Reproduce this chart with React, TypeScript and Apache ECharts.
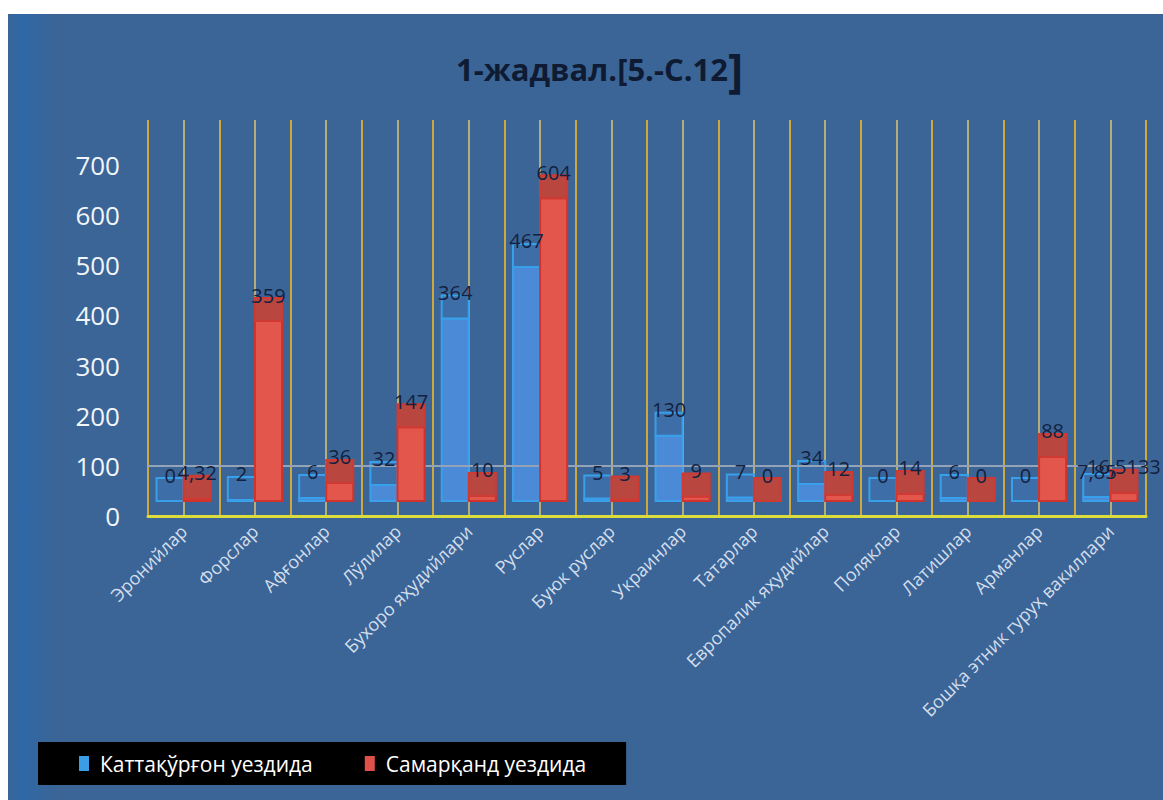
import React, { useEffect, useRef } from "react";
import * as echarts from "echarts";

const categories = [
  "Эронийлар",
  "Форслар",
  "Афғонлар",
  "Лўлилар",
  "Бухоро яҳудийлари",
  "Руслар",
  "Буюк руслар",
  "Украинлар",
  "Татарлар",
  "Европалик яҳудийлар",
  "Поляклар",
  "Латишлар",
  "Арманлар",
  "Бошқа этник гуруҳ вакиллари",
];

const kattaqurgon = [0, 2, 6, 32, 364, 467, 5, 130, 7, 34, 0, 6, 0, 7.85];
const samarkand = [4.32, 359, 36, 147, 10, 604, 3, 9, 0, 12, 14, 0, 88, 16.5133];

const seriesNames = ["Каттақўрғон уездида", "Самарқанд уездида"];
const yTicks = [0, 100, 200, 300, 400, 500, 600, 700];
const titleMain = "1-жадвал.[5.-С.12";
const titleBracket = "]";

const fmt = (v: number) => String(v).replace(".", ",");

const FONT = '"Open Sans", "Noto Sans", sans-serif';
const LIFT = 15;
const CAP_H = 23;

const geom = (side: number, api: any) => {
  const i = api.value(0);
  const v = api.value(1);
  const base = api.coord([i, 0]);
  const top = api.coord([i, v]);
  const band = api.size([1, 0])[0];
  const w = band * 0.38;
  const x = side === 0 ? base[0] - w : base[0];
  const frontTop = top[1] - LIFT;
  const frontBottom = base[1] - LIFT;
  return { v, x, w, frontTop, frontBottom };
};

const makeBarRender =
  (side: number, front: string, frontEdge: string, cap: string, capEdge: string) =>
  (_params: any, api: any) => {
    const { x, w, frontTop, frontBottom } = geom(side, api);
    return {
      type: "group",
      children: [
        {
          type: "rect",
          shape: { x, y: frontTop, width: w, height: Math.max(frontBottom - frontTop, 0) },
          style: { fill: front, stroke: frontEdge, lineWidth: 2 },
        },
        {
          type: "rect",
          shape: { x, y: frontTop - CAP_H, width: w, height: CAP_H },
          style: { fill: cap, stroke: capEdge, lineWidth: 2 },
        },
      ],
    };
  };

const makeLabelRender = (side: number) => (_params: any, api: any) => {
  const { v, x, w, frontTop } = geom(side, api);
  return {
    type: "text",
    x: x + w / 2,
    y: frontTop - CAP_H + 7,
    style: {
      text: fmt(v),
      fill: "#13213f",
      fontSize: 20,
      fontFamily: FONT,
      align: "center",
      verticalAlign: "bottom",
    },
  };
};

export default function App() {
  const ref = useRef<HTMLDivElement>(null);

  useEffect(() => {
    if (!ref.current) return;
    const chart = echarts.init(ref.current, null, { renderer: "svg" });
    const halfCats = Array.from({ length: categories.length * 2 }, (_, i) => String(i));
    const kData = kattaqurgon.map((v, i) => [i, v]);
    const sData = samarkand.map((v, i) => [i, v]);
    chart.setOption({
      animation: false,
      backgroundColor: "#3b6597",
      title: {
        text: `{a|${titleMain}}{b|${titleBracket}}`,
        left: 443,
        top: 27,
        textStyle: {
          rich: {
            a: { fontSize: 31, fontWeight: "bold", color: "#0e1b33", fontFamily: FONT },
            b: { fontSize: 46, fontWeight: "bold", color: "#0e1b33", fontFamily: FONT },
          },
        },
      },
      graphic: [
        {
          type: "rect",
          left: 0,
          top: 0,
          shape: { width: 48, height: 786 },
          style: {
            fill: new echarts.graphic.LinearGradient(0, 0, 1, 0, [
              { offset: 0, color: "#3a6596" },
              { offset: 0.25, color: "#2f68a8" },
              { offset: 1, color: "#3a6596" },
            ]),
          },
          z: -1,
        },
      ],
      legend: {
        data: seriesNames,
        left: 30,
        top: 728,
        backgroundColor: "#000",
        padding: [11, 40, 11, 41],
        itemGap: 52,
        icon: "rect",
        itemWidth: 10,
        itemHeight: 15,
        textStyle: {
          color: "#ffffff",
          fontSize: 21,
          lineHeight: 21,
          fontFamily: FONT,
          padding: [0, 0, 0, 6],
        },
      },
      grid: { left: 140, right: 17, top: 106, bottom: 284 },
      xAxis: [
        {
          type: "category",
          data: categories,
          axisLine: { show: true, lineStyle: { color: "#dcdc3c", width: 3 } },
          axisTick: { show: false },
          axisLabel: {
            interval: 0,
            rotate: 45,
            color: "#d3deec",
            fontSize: 18,
            fontFamily: FONT,
            margin: 12,
          },
          splitLine: { show: true, interval: 0, lineStyle: { color: "#cda83c", width: 2 } },
          z: 3,
        },
        {
          type: "category",
          data: halfCats,
          position: "bottom",
          axisLine: { show: false },
          axisTick: { show: false },
          axisLabel: { show: false },
          splitLine: {
            show: true,
            interval: (i: number) => i % 2 === 1,
            lineStyle: { color: "#b4ad78", width: 2 },
          },
        },
      ],
      yAxis: {
        type: "value",
        min: 0,
        max: 790,
        interval: 100,
        axisLine: { show: false },
        axisTick: { show: false },
        splitLine: { show: false },
        axisLabel: {
          showMaxLabel: false,
          margin: 28,
          color: "#f2f5f9",
          fontSize: 26,
          fontFamily: FONT,
          formatter: (v: number) => (yTicks.includes(v) ? String(v) : ""),
        },
      },
      series: [
        {
          name: seriesNames[0],
          type: "custom",
          xAxisIndex: 0,
          data: kData,
          encode: { x: 0, y: 1 },
          itemStyle: { color: "#3b9de6" },
          renderItem: makeBarRender(0, "#4a8ad6", "#3aa0ea", "#3e6ea8", "#38a0ea"),
          markLine: {
            silent: true,
            symbol: "none",
            label: { show: false },
            lineStyle: { color: "#95a3b8", width: 2, type: "solid" },
            data: [{ yAxis: 100 }],
          },
          z: 4,
        },
        {
          name: seriesNames[1],
          type: "custom",
          xAxisIndex: 0,
          data: sData,
          encode: { x: 0, y: 1 },
          itemStyle: { color: "#e0504a" },
          renderItem: makeBarRender(1, "#e2564c", "#d2322c", "#b9463f", "#cf3a33"),
          z: 5,
        },
        {
          type: "custom",
          xAxisIndex: 0,
          data: kData,
          encode: { x: 0, y: 1 },
          silent: true,
          renderItem: makeLabelRender(0),
          z: 8,
        },
        {
          type: "custom",
          xAxisIndex: 0,
          data: sData,
          encode: { x: 0, y: 1 },
          silent: true,
          renderItem: makeLabelRender(1),
          z: 9,
        },
      ],
    });
    return () => chart.dispose();
  }, []);

  return (
    <div
      ref={ref}
      style={{ position: "absolute", left: 8, top: 14, width: 1155, height: 786 }}
    />
  );
}
